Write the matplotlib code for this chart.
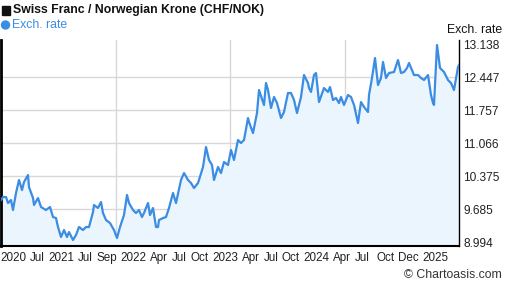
import numpy as np
import matplotlib
matplotlib.use("Agg")
import matplotlib.pyplot as plt
from matplotlib.patches import Rectangle, Ellipse

plt.rcParams['font.family'] = ['Liberation Sans', 'DejaVu Sans']

# dias desde el inicio del periodo (aprox. 5 anios)
days = np.array([
    0, 8, 20, 28, 40, 48, 60, 72, 84, 92, 108, 112, 128, 132, 148, 160, 180, 196, 208, 220,
    228, 240, 252, 264, 272, 288, 300, 312, 328, 340, 352, 368, 372, 388, 400, 408, 420, 436, 452, 464,
    476, 492, 504, 512, 528, 540, 552, 564, 572, 588, 596, 608, 620, 632, 628, 648, 660, 672, 688, 700,
    720, 732, 748, 760, 772, 788, 808, 820, 832, 844, 852, 868, 880, 892, 908, 920, 932, 948, 960, 972,
    988, 992, 1008, 1024, 1032, 1052, 1060, 1068, 1080, 1092, 1104, 1120, 1132, 1148, 1160, 1172, 1184, 1200, 1212, 1228,
    1232, 1240, 1252, 1260, 1272, 1292, 1308, 1316, 1328, 1340, 1352, 1360, 1372, 1388, 1400, 1412, 1428, 1440, 1452, 1468,
    1472, 1484, 1496, 1508, 1520, 1528, 1540, 1552, 1572, 1588, 1600, 1612, 1624, 1632, 1652, 1668, 1680, 1692, 1708, 1720,
    1728, 1732, 1744, 1756, 1772, 1788, 1800, 1812, 1828, 1832,
])

rate = np.array([
    9.879, 9.942, 9.942, 9.816, 9.879, 9.670, 10.026, 10.298, 10.088, 10.256,
    10.402, 10.151, 9.921, 9.775, 9.921, 9.733, 9.670, 9.733, 9.523, 9.502,
    9.314, 9.105, 9.251, 9.105, 9.209, 9.042, 9.147, 9.314, 9.251, 9.314,
    9.314, 9.628, 9.775, 9.712, 9.837, 9.607, 9.461, 9.398, 9.251, 9.084,
    9.314, 9.565, 9.984, 9.816, 9.670, 9.607, 9.670, 9.523, 9.607, 9.816,
    9.565, 9.712, 9.314, 9.461, 9.314, 9.502, 9.523, 9.712, 10.026, 9.816,
    10.298, 10.444, 10.298, 10.235, 10.130, 10.235, 10.570, 10.988, 10.716, 10.612,
    10.298, 10.570, 10.444, 10.675, 10.612, 10.926, 10.716, 11.135, 11.072, 11.135,
    11.595, 11.512, 11.281, 11.700, 12.181, 11.868, 12.328, 12.181, 11.805, 12.035,
    11.909, 11.595, 11.721, 12.119, 12.119, 11.972, 11.700, 12.035, 12.495, 12.328,
    12.223, 12.140, 12.495, 12.537, 11.930, 12.223, 12.140, 12.244, 11.972, 12.014,
    11.909, 12.035, 11.868, 12.077, 12.035, 11.868, 11.491, 11.930, 11.826, 11.721,
    12.077, 12.433, 12.851, 12.286, 12.433, 12.768, 12.433, 12.537, 12.558, 12.809,
    12.537, 12.558, 12.642, 12.747, 12.495, 12.495, 12.433, 12.391, 12.495, 12.077,
    11.909, 11.868, 13.123, 12.642, 12.558, 12.391, 12.328, 12.181, 12.663, 12.705,
    12.809, 12.809,
])
rate = rate[:len(days)]

yticks = [8.994, 9.685, 10.375, 11.066, 11.757, 12.447, 13.138]
xtick_pos = [49, 145, 241, 337, 423, 531, 633, 713, 793, 896, 999, 1079, 1159, 1262, 1364, 1444, 1539, 1631, 1739]
xtick_lab = ['2020', 'Jul', '2021', 'Jul', 'Sep', '2022', 'Apr', 'Jul', 'Oct', '2023',
             'Apr', 'Jul', 'Oct', '2024', 'Apr', 'Jul', 'Oct', 'Dec', '2025']

orden = np.argsort(days, kind='stable')
days = days[orden]
rate = rate[orden]

fig = plt.figure(figsize=(5.07, 2.88), dpi=100)
ax = fig.add_axes([1 / 507, 42 / 288, 458 / 507, 206 / 288])

ymin, ymax = 8.917, 13.228
ax.fill_between(days, rate, ymin, color='#ebf5fe', zorder=1)
ax.plot(days, rate, color='#3b8de3', lw=1.6, zorder=3)

ax.set_xlim(0, 1832)
ax.set_ylim(ymin, ymax)

ax.set_yticks(yticks)
ax.set_yticklabels([f'{v:.3f}' for v in yticks])
ax.yaxis.tick_right()
ax.tick_params(axis='y', length=0, pad=3, labelsize=8.6, labelcolor='#222222')

ax.set_xticks(xtick_pos)
ax.set_xticklabels(xtick_lab)
ax.tick_params(axis='x', length=0, pad=4, labelsize=8.4, labelcolor='#222222')

# rejilla
for v in yticks[1:-1]:
    ax.axhline(v, color='#d8d8d8', lw=1, zorder=0)
for d in [458, 916, 1374]:
    ax.axvline(d, color='#d8d8d8', lw=1, zorder=0)

ax.spines['top'].set_visible(False)
ax.spines['left'].set_linewidth(2)
ax.spines['bottom'].set_linewidth(1.5)
ax.spines['right'].set_linewidth(1)
for s in ['left', 'bottom', 'right']:
    ax.spines[s].set_color('black')

# titulo y leyenda
fig.add_artist(Rectangle((2 / 507, 1 - 15 / 288), 8 / 507, 9 / 288, transform=fig.transFigure,
                         color='#111111'))
fig.text(13 / 507, 1 - 10 / 288, 'Swiss Franc / Norwegian Krone (CHF/NOK)', fontsize=8.8,
         fontweight='bold', color='#111111', va='center', ha='left')
fig.add_artist(Ellipse((5.5 / 507, 1 - 25 / 288), 8 / 507, 8 / 288, transform=fig.transFigure,
                       color='#3b8de3'))
fig.text(12 / 507, 1 - 25 / 288, 'Exch. rate', fontsize=8.8, color='#3b8de3', va='center', ha='left')
fig.text(502 / 507, 1 - 30 / 288, 'Exch. rate', fontsize=8.8, color='#111111', va='center', ha='right')
fig.text(502 / 507, 1 - 275 / 288, '\u00A9 Chartoasis.com', fontsize=8.8, color='#333333',
         va='center', ha='right')

fig.savefig('out.png', dpi=100)
